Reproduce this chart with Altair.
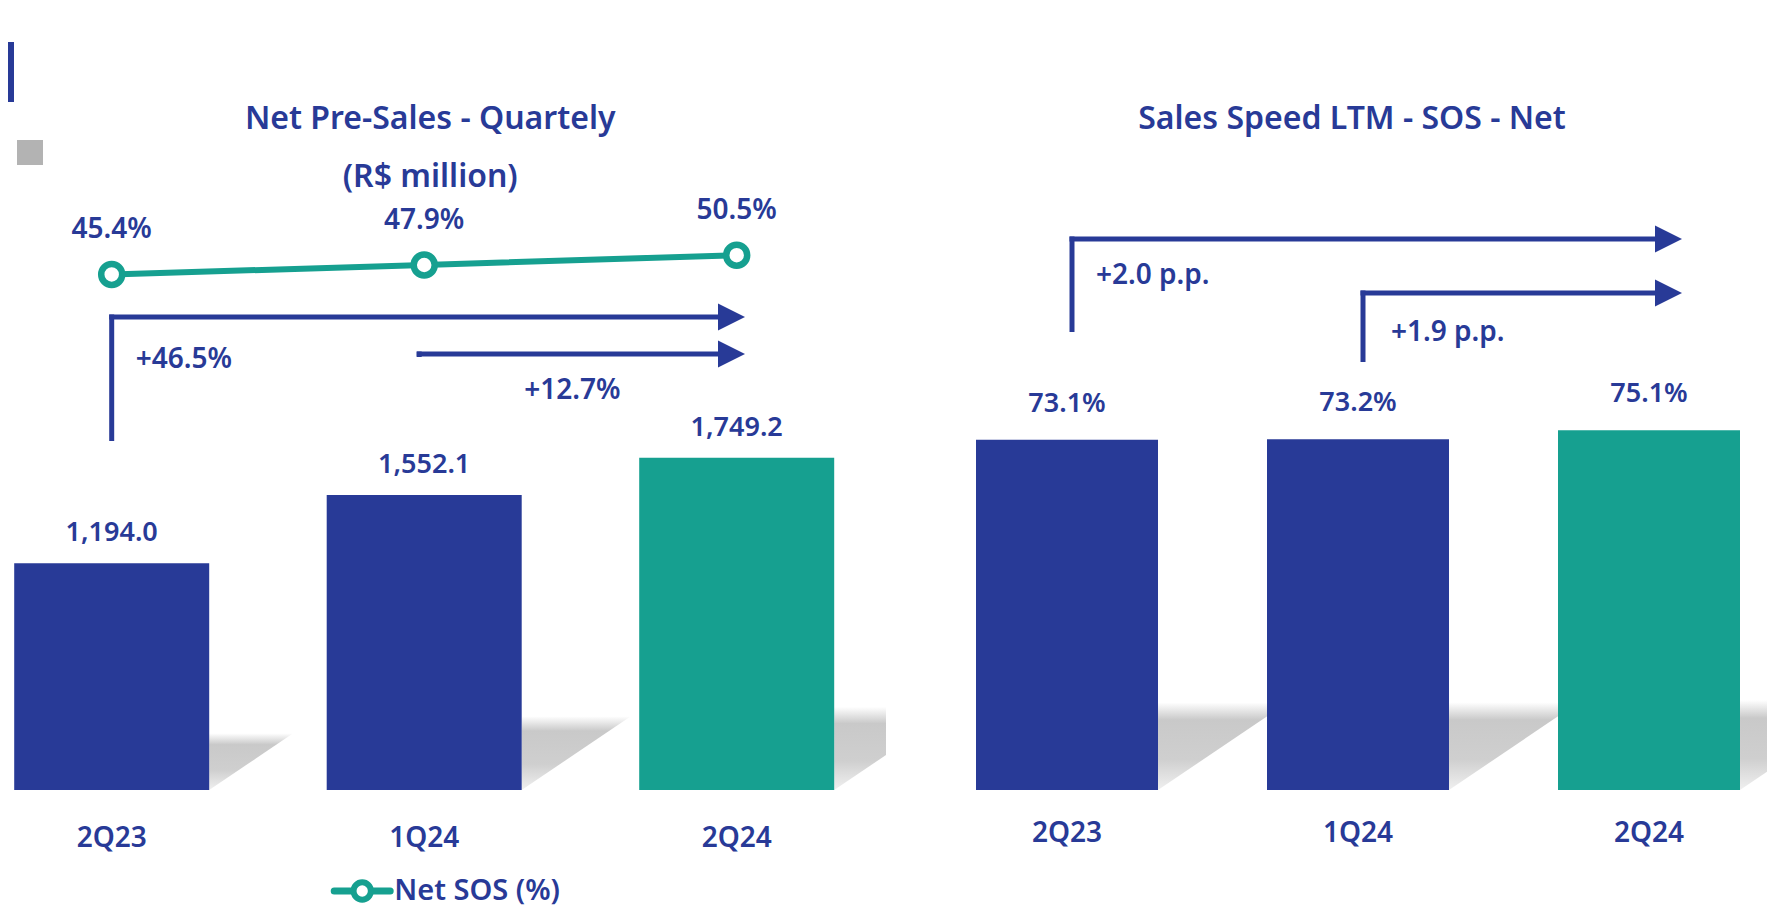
import altair as alt
import pandas as pd

# ---------------- data ----------------
quarters = ["2Q23", "1Q24", "2Q24"]
net_presales = [1194.0, 1552.1, 1749.2]      # R$ million
net_sos = [45.4, 47.9, 50.5]                 # %
sales_speed_ltm = [73.1, 73.2, 75.1]         # %
presales_growth = ["+46.5%", "+12.7%"]       # 2Q24 vs 2Q23 / 2Q24 vs 1Q24
speed_growth = ["+2.0 p.p.", "+1.9 p.p."]    # 2Q24 vs 2Q23 / 2Q24 vs 1Q24
left_title = ["Net Pre-Sales - Quartely", "(R$ million)"]
right_title = "Sales Speed LTM - SOS - Net"
legend_label = "Net SOS (%)"

# ---------------- style / layout ----------------
NAVY = "#283A97"
TEAL = "#16A090"
GREY = "#B3B3B3"
bar_colors = [NAVY, NAVY, TEAL]
FONT = "Noto Sans"
W, H = 1759, 899
BASE = 782            # plot y of the zero line
L_BW, R_BW = 195, 182
K_L, K_R, K_S = 0.19, 4.79, 3.78   # px per unit

LX = alt.Scale(domain=[0, 2], range=[103.7, 728.7], nice=False, zero=False, padding=0)
RX = alt.Scale(domain=[0, 2], range=[1059, 1641], nice=False, zero=False, padding=0)
LY = alt.Scale(domain=[-(H - BASE) / K_L, BASE / K_L], range=[H, 0], nice=False, zero=False, padding=0)
RY = alt.Scale(domain=[-(H - BASE) / K_R, BASE / K_R], range=[H, 0], nice=False, zero=False, padding=0)
SOS_ANCHOR_Y = 257
SY = alt.Scale(domain=[net_sos[1] - (H - SOS_ANCHOR_Y) / K_S, net_sos[1] + SOS_ANCHOR_Y / K_S],
               range=[H, 0], nice=False, zero=False, padding=0)

idx = list(range(len(quarters)))
i0, i1, i2 = idx


def shadow_path(half_bw, dx, dy, s, clip=None):
    xr, xe = half_bw, half_bw + dx
    if clip is not None and xe > clip:
        yc = -dy * (clip - xr) / dx
        pts = [(xr, 0), (xr, -dy), (clip, -dy), (clip, yc)]
    else:
        pts = [(xr, 0), (xr, -dy), (xe, -dy)]
    return "M" + "L".join(f"{x / s:.4f},{y / s:.4f}" for x, y in pts) + "Z"


L_S = 240.0
R_S = 240.0
left_df = pd.DataFrame({
    "idx": idx, "quarter": quarters, "value": net_presales, "sos": net_sos,
    "color": bar_colors, "zero": 0,
    "label": [f"{v:,.1f}" for v in net_presales],
    "sos_label": [f"{v:.1f}%" for v in net_sos],
})
left_df["shadow"] = [
    shadow_path(L_BW / 2, 0.37 * v * K_L, 0.25 * v * K_L, L_S, clip=(149.3 if q == quarters[-1] else None))
    for q, v in zip(quarters, net_presales)
]
right_df = pd.DataFrame({
    "idx": idx, "quarter": quarters, "value": sales_speed_ltm,
    "color": bar_colors, "zero": 0,
    "label": [f"{v:.1f}%" for v in sales_speed_ltm],
})
right_df["shadow"] = [shadow_path(R_BW / 2, 0.37 * v * K_R, 0.25 * v * K_R, R_S) for v in sales_speed_ltm]

shadow_fill = alt.Gradient(
    gradient="linear", x1=0, y1=0, x2=0, y2=1,
    stops=[alt.GradientStop(color="#ffffff", offset=0),
           alt.GradientStop(color="#c9c9c9", offset=0.2),
           alt.GradientStop(color="#cfcfcf", offset=0.65),
           alt.GradientStop(color="#f0f0f0", offset=1)],
)

TXT = dict(font=FONT, fontWeight=600, color=NAVY, baseline="middle")


def X(field, sc):
    return alt.X(field, scale=sc, axis=None)


def panel(df, xs, ys, bw, s, label_dy, xlab_y):
    shadows = alt.Chart(df).mark_point(filled=True, fill=shadow_fill, opacity=1, strokeOpacity=0).encode(
        x=X("idx:Q", xs), y=alt.Y("zero:Q", scale=ys, axis=None),
        shape=alt.Shape("shadow:N", scale=None), size=alt.value((2 * s) ** 2),
    )
    bars = alt.Chart(df).mark_bar(size=bw, orient="vertical").encode(
        x=X("idx:Q", xs), y=alt.Y("value:Q", scale=ys, axis=None), y2="zero:Q",
        color=alt.Color("color:N", scale=None),
    )
    labels = alt.Chart(df).mark_text(dy=label_dy, fontSize=27, **TXT).encode(
        x=X("idx:Q", xs), y=alt.Y("value:Q", scale=ys, axis=None), text="label:N",
    )
    xlabels = alt.Chart(df).mark_text(fontSize=28, **TXT).encode(
        x=X("idx:Q", xs), y=alt.value(xlab_y), text="quarter:N",
    )
    return [shadows, bars, labels, xlabels]


def elbow_arrow(xs, a, b, y_top, y_bottom=None, x_off=0.0, tip_off=0.0):
    d = alt.Data(values=[{"a": a, "b": b}])
    out = []
    if y_bottom is not None:
        out.append(alt.Chart(d).mark_rule(color=NAVY, strokeWidth=5, xOffset=x_off).encode(
            x=X("a:Q", xs), y=alt.value(y_bottom), y2=alt.value(y_top - 2.5)))
    out.append(alt.Chart(d).mark_rule(color=NAVY, strokeWidth=5, xOffset=x_off - 2.5,
                                      x2Offset=tip_off - 10).encode(
        x=X("a:Q", xs), x2="b:Q", y=alt.value(y_top)))
    out.append(alt.Chart(d).mark_point(shape="M-1,-1L1,0L-1,1Z", filled=True, fill=NAVY, opacity=1,
                                       strokeOpacity=0, size=27 ** 2, xOffset=tip_off - 13.5).encode(
        x=X("b:Q", xs), y=alt.value(y_top)))
    return out


def text_at(xs, a, txt, y, x_off, size=28, align="left"):
    d = alt.Data(values=[{"a": a, "t": txt}])
    return alt.Chart(d).mark_text(fontSize=size, align=align, xOffset=x_off, **TXT).encode(
        x=X("a:Q", xs), y=alt.value(y), text="t:N")


layers = []
# ---- left panel ----
layers += panel(left_df, LX, LY, L_BW, L_S, -30, 831)
layers.append(alt.Chart(left_df).mark_line(color=TEAL, strokeWidth=6).encode(
    x=X("idx:Q", LX), y=alt.Y("sos:Q", scale=SY, axis=None)))
layers.append(alt.Chart(left_df).mark_point(shape="circle", filled=True, fill="white", stroke=TEAL,
                                            strokeWidth=6.5, size=440, opacity=1).encode(
    x=X("idx:Q", LX), y=alt.Y("sos:Q", scale=SY, axis=None)))
layers.append(alt.Chart(left_df).mark_text(dy=-44, fontSize=28, **TXT).encode(
    x=X("idx:Q", LX), y=alt.Y("sos:Q", scale=SY, axis=None), text="sos_label:N"))
layers += elbow_arrow(LX, i0, i2, 309, 433, 0, 8.3)
layers += elbow_arrow(LX, i1, i2, 346, 349, -5, 8.3)
layers.append(text_at(LX, i0, presales_growth[0], 352, 24))
layers.append(text_at(LX, i1, presales_growth[1], 383, 100))
layers.append(text_at(LX, i1, left_title[0], 111, 6, size=32, align="center"))
layers.append(text_at(LX, i1, left_title[1], 169, 6, size=32, align="center"))
# legend
leg = alt.Data(values=[{"a": i1}])
layers.append(alt.Chart(leg).mark_rule(color=TEAL, strokeWidth=7, strokeCap="round",
                                       xOffset=-90, x2Offset=-34).encode(
    x=X("a:Q", LX), x2="a:Q", y=alt.value(883)))
layers.append(alt.Chart(leg).mark_point(shape="circle", filled=True, fill="white", stroke=TEAL,
                                        strokeWidth=6, size=300, opacity=1, xOffset=-62).encode(
    x=X("a:Q", LX), y=alt.value(883)))
layers.append(text_at(LX, i1, legend_label, 883, -30, size=29))

# ---- right panel ----
layers += panel(right_df, RX, RY, R_BW, R_S, -36, 826)
layers += elbow_arrow(RX, i0, i2, 231, 324, 5, 33)
layers += elbow_arrow(RX, i1, i2, 285, 354, 5, 33)
layers.append(text_at(RX, i0, speed_growth[0], 268, 29))
layers.append(text_at(RX, i1, speed_growth[1], 325, 33))
layers.append(text_at(RX, i1, right_title, 111, -6, size=32, align="center"))

# ---- corner decorations ----
one = alt.Data(values=[{}])
layers.append(alt.Chart(one).mark_rect(color=NAVY).encode(
    x=alt.value(0), x2=alt.value(6), y=alt.value(34), y2=alt.value(94)))
layers.append(alt.Chart(one).mark_rect(color=GREY).encode(
    x=alt.value(9), x2=alt.value(35), y=alt.value(132), y2=alt.value(157)))

chart = alt.layer(*layers).resolve_scale(x="independent", y="independent").properties(
    width=W, height=H, autosize=alt.AutoSizeParams(type="none"), padding=0,
    background="white",
).configure_view(stroke="transparent")

chart.save("out.html", embed_options={"renderer": "svg", "actions": False})
